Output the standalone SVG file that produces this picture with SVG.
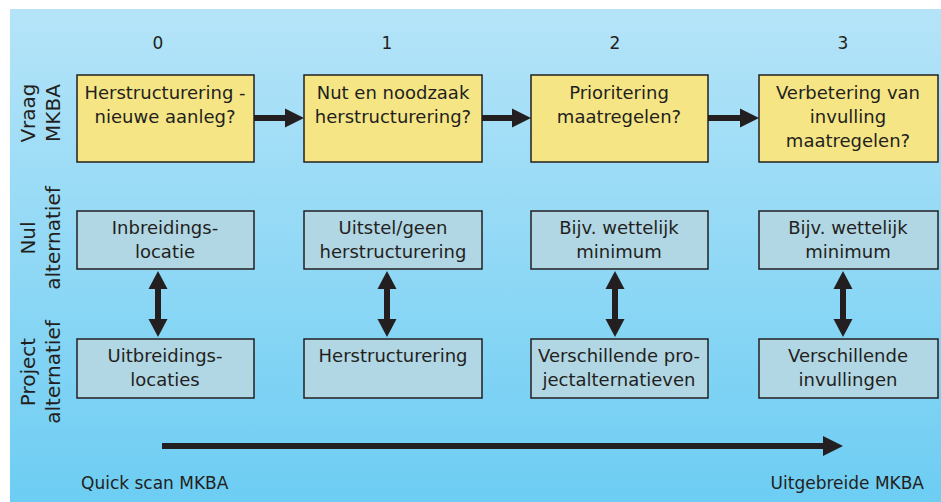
<svg xmlns="http://www.w3.org/2000/svg" width="941" height="502" viewBox="0 0 941 502">
  <defs>
    <linearGradient id="bg" x1="0" y1="0" x2="0" y2="1">
      <stop offset="0" stop-color="#b5e4f8"/>
      <stop offset="1" stop-color="#6dcdf3"/>
    </linearGradient>
  </defs>
  <style>
    text { font-family: "DejaVu Sans", "Liberation Sans", sans-serif; fill: #231f20; }
    .t { font-size: 18px; text-anchor: middle; }
    .num { font-size: 17px; text-anchor: middle; }
    .lbl { font-size: 20px; text-anchor: middle; }
    .bot { font-size: 17px; }
    .q { fill: #f5e584; stroke: #231f20; stroke-width: 1.5; }
    .a { fill: #b1d6e4; stroke: #231f20; stroke-width: 1.5; }
    .ln { stroke: #231f20; stroke-width: 6; fill: none; }
    .hd { fill: #231f20; }
  </style>
  <rect x="10" y="9" width="931" height="493" fill="url(#bg)"/>

  <g id="col-numbers">
    <text class="num" x="158" y="49">0</text>
    <text class="num" x="387" y="49">1</text>
    <text class="num" x="615" y="49">2</text>
    <text class="num" x="843" y="49">3</text>
  </g>

  <g id="row-labels">
    <text class="lbl" transform="translate(35,113) rotate(-90)">Vraag</text>
    <text class="lbl" transform="translate(60,113) rotate(-90)">MKBA</text>
    <text class="lbl" transform="translate(35,238) rotate(-90)">Nul</text>
    <text class="lbl" transform="translate(60,238) rotate(-90)">alternatief</text>
    <text class="lbl" transform="translate(35,372) rotate(-90)">Project</text>
    <text class="lbl" transform="translate(60,372) rotate(-90)">alternatief</text>
  </g>

  <g id="q0"><rect class="q" x="77" y="75" width="177" height="87"/>
    <text class="t" x="165" y="99">Herstructurering -</text>
    <text class="t" x="165" y="123">nieuwe aanleg?</text></g>
  <g id="q1"><rect class="q" x="304" y="75" width="178" height="87"/>
    <text class="t" x="393" y="99">Nut en noodzaak</text>
    <text class="t" x="393" y="123">herstructurering?</text></g>
  <g id="q2"><rect class="q" x="531" y="75" width="177" height="87"/>
    <text class="t" x="619" y="99">Prioritering</text>
    <text class="t" x="619" y="123">maatregelen?</text></g>
  <g id="q3"><rect class="q" x="759" y="75" width="179" height="87"/>
    <text class="t" x="848" y="99">Verbetering van</text>
    <text class="t" x="848" y="123">invulling</text>
    <text class="t" x="848" y="147">maatregelen?</text></g>

  <g id="n0"><rect class="a" x="77" y="211" width="177" height="58"/>
    <text class="t" x="165" y="234">Inbreidings-</text>
    <text class="t" x="165" y="258">locatie</text></g>
  <g id="n1"><rect class="a" x="304" y="211" width="178" height="58"/>
    <text class="t" x="393" y="234">Uitstel/geen</text>
    <text class="t" x="393" y="258">herstructurering</text></g>
  <g id="n2"><rect class="a" x="531" y="211" width="177" height="58"/>
    <text class="t" x="619" y="234">Bijv. wettelijk</text>
    <text class="t" x="619" y="258">minimum</text></g>
  <g id="n3"><rect class="a" x="759" y="211" width="179" height="58"/>
    <text class="t" x="848" y="234">Bijv. wettelijk</text>
    <text class="t" x="848" y="258">minimum</text></g>

  <g id="p0"><rect class="a" x="77" y="339" width="177" height="59"/>
    <text class="t" x="165" y="362">Uitbreidings-</text>
    <text class="t" x="165" y="386">locaties</text></g>
  <g id="p1"><rect class="a" x="304" y="339" width="178" height="59"/>
    <text class="t" x="393" y="362">Herstructurering</text></g>
  <g id="p2"><rect class="a" x="531" y="339" width="177" height="59"/>
    <text class="t" x="619" y="362">Verschillende pro-</text>
    <text class="t" x="619" y="386">jectalternatieven</text></g>
  <g id="p3"><rect class="a" x="759" y="339" width="179" height="59"/>
    <text class="t" x="848" y="362">Verschillende</text>
    <text class="t" x="848" y="386">invullingen</text></g>

  <g id="connectors">
    <line class="ln" x1="254" y1="118" x2="287" y2="118"/>
    <polygon class="hd" points="285,108.5 304,118 285,127.5"/>
    <line class="ln" x1="482" y1="118" x2="514" y2="118"/>
    <polygon class="hd" points="512,108.5 531,118 512,127.5"/>
    <line class="ln" x1="708" y1="118" x2="742" y2="118"/>
    <polygon class="hd" points="740,108.5 759,118 740,127.5"/>

    <line class="ln" x1="158" y1="287" x2="158" y2="321"/>
    <polygon class="hd" points="158,271 167.5,289 148.5,289"/>
    <polygon class="hd" points="158,337 167.5,319 148.5,319"/>
    <line class="ln" x1="387" y1="287" x2="387" y2="321"/>
    <polygon class="hd" points="387,271 396.5,289 377.5,289"/>
    <polygon class="hd" points="387,337 396.5,319 377.5,319"/>
    <line class="ln" x1="615" y1="287" x2="615" y2="321"/>
    <polygon class="hd" points="615,271 624.5,289 605.5,289"/>
    <polygon class="hd" points="615,337 624.5,319 605.5,319"/>
    <line class="ln" x1="843" y1="287" x2="843" y2="321"/>
    <polygon class="hd" points="843,271 852.5,289 833.5,289"/>
    <polygon class="hd" points="843,337 852.5,319 833.5,319"/>

    <line class="ln" x1="162" y1="446" x2="826" y2="446"/>
    <polygon class="hd" points="823,436 843,446 823,456"/>
  </g>

  <g id="scale-labels">
    <text class="bot" x="81" y="489">Quick scan MKBA</text>
    <text class="bot" x="924" y="489" text-anchor="end">Uitgebreide MKBA</text>
  </g>
</svg>
